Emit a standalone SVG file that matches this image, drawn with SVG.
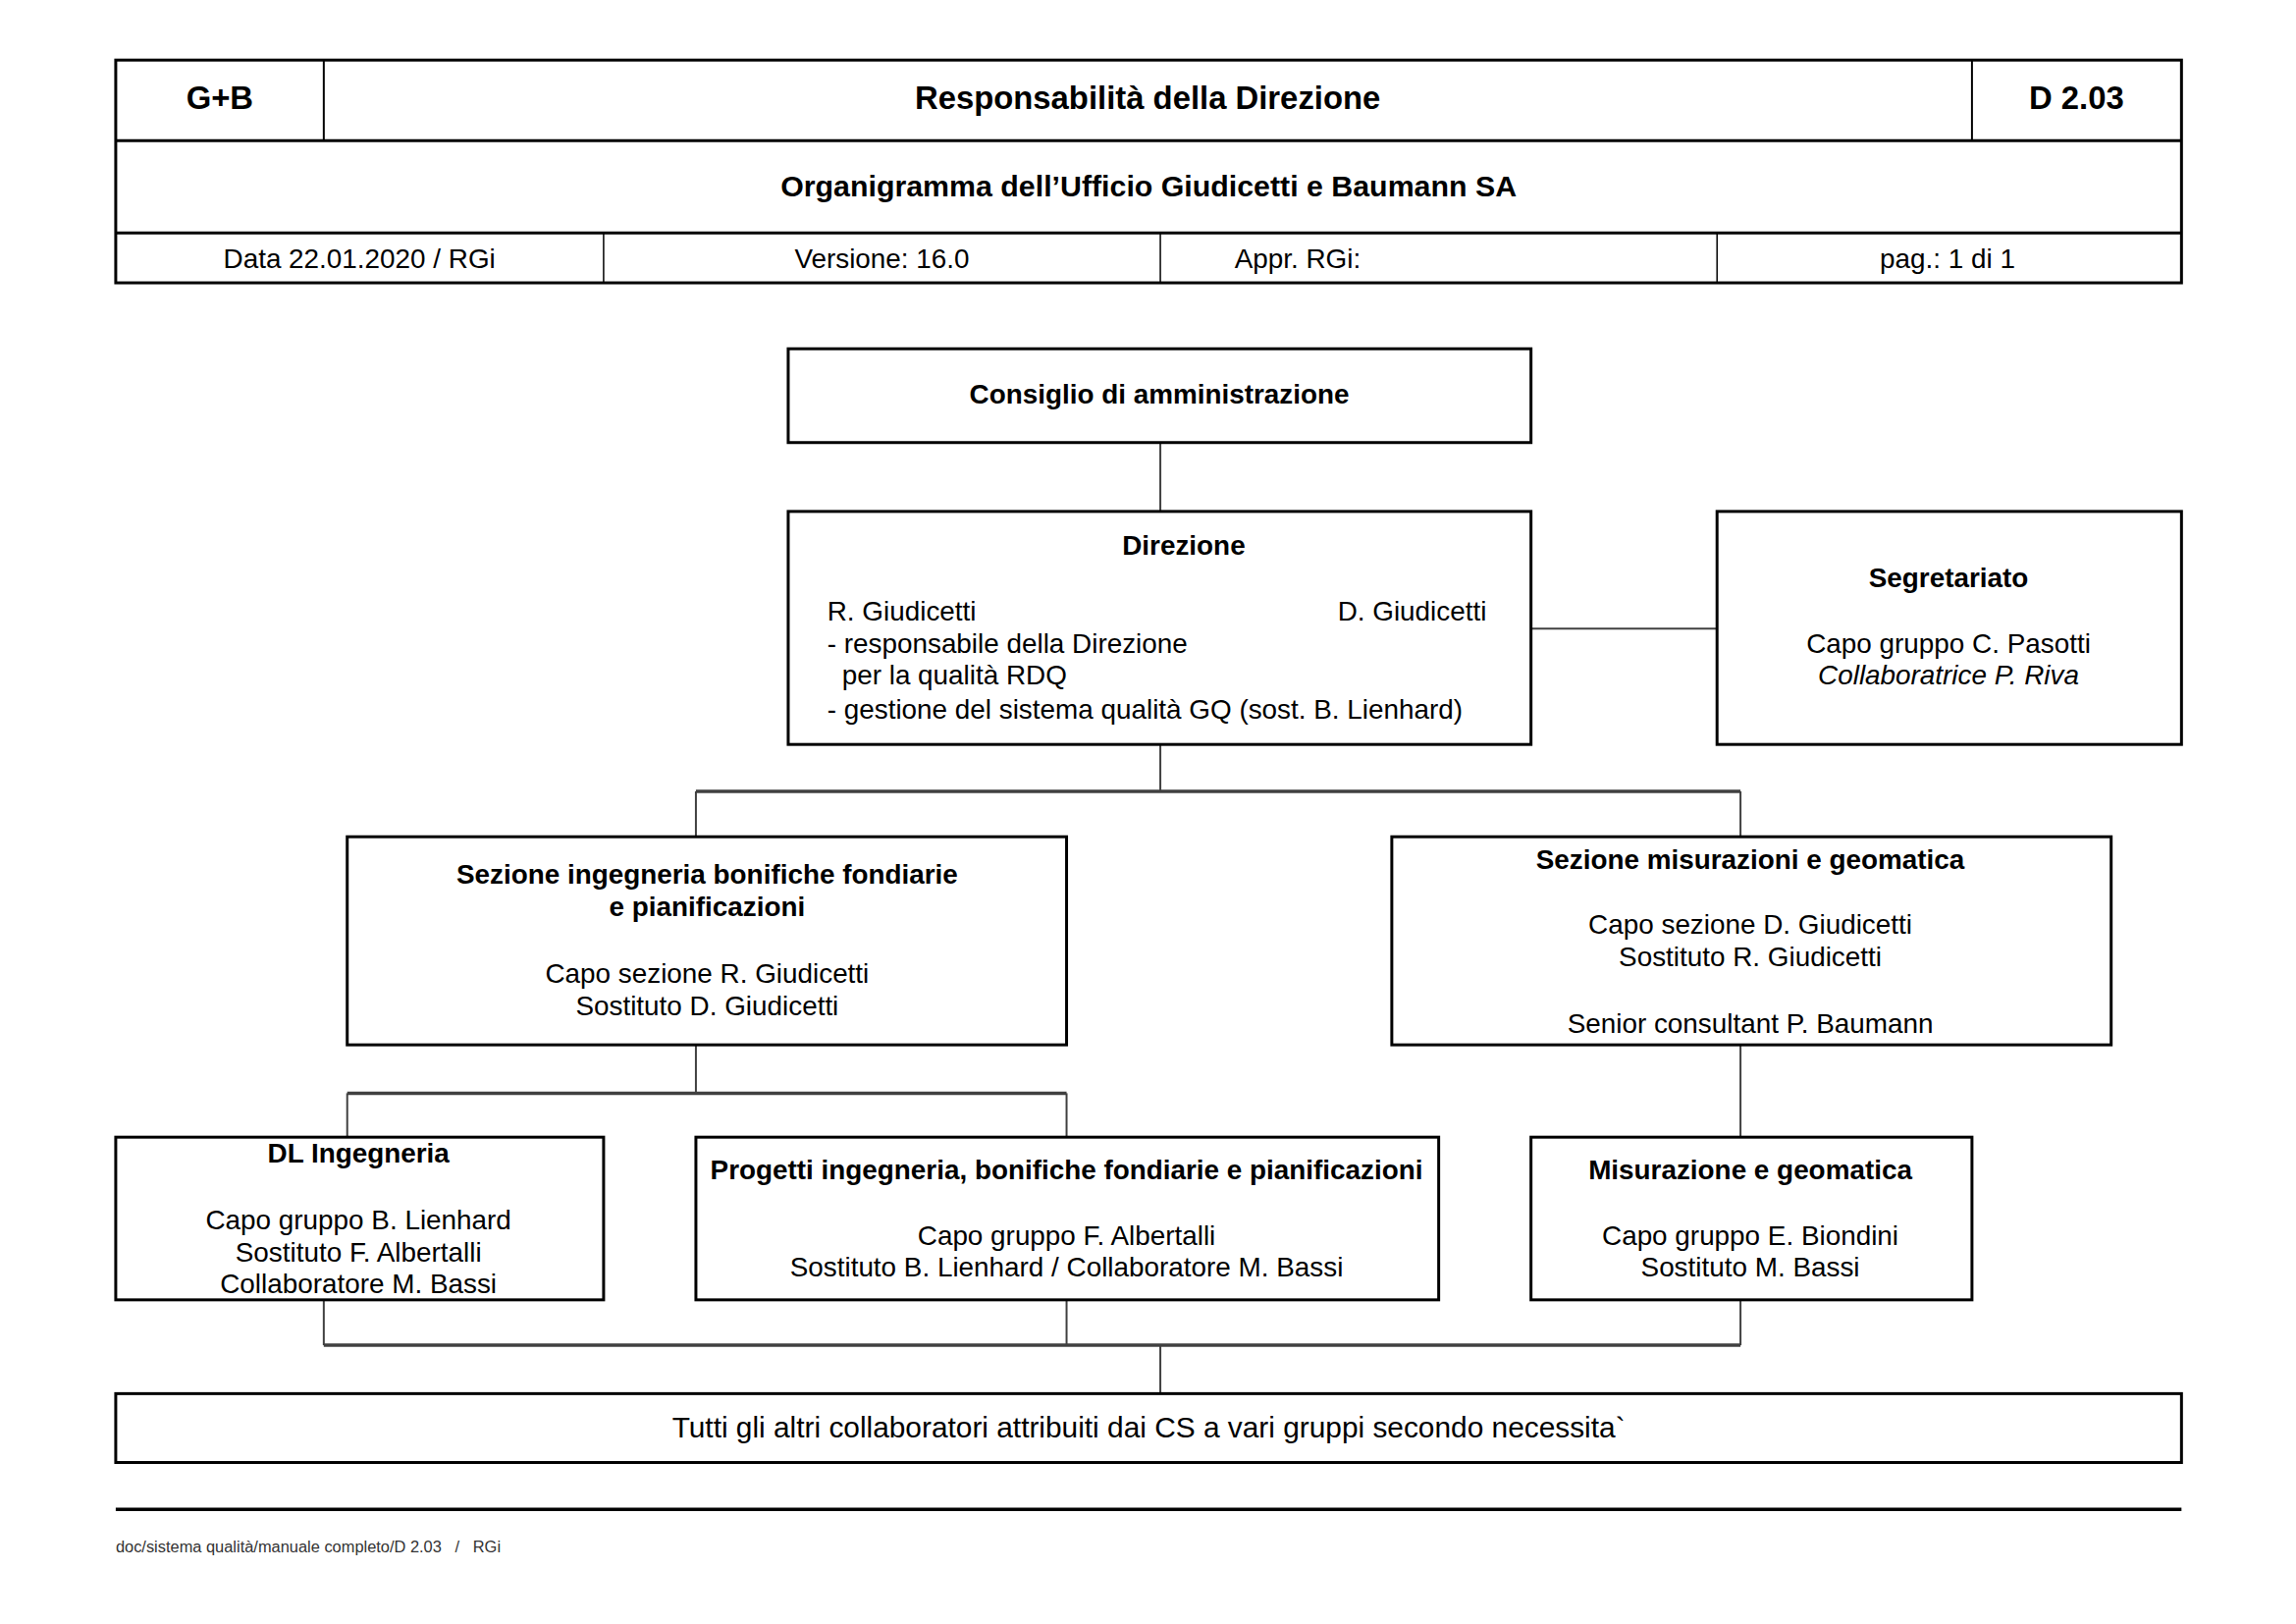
<svg xmlns="http://www.w3.org/2000/svg" width="2339" height="1654" viewBox="0 0 2339 1654">
<style>
text{font-family:"Liberation Sans",Arial,sans-serif;fill:#000;}
.b{font-weight:bold;}
.h1{font-size:33px;font-weight:bold;}
.h2{font-size:30.5px;font-weight:bold;}
.t{font-size:28px;}
.big{font-size:30px;}
.it{font-style:italic;}
.box{fill:#fff;stroke:#000;stroke-width:3;}
.hl{stroke:#000;stroke-width:3;fill:none;}
.hv{stroke:#000;stroke-width:2;fill:none;}
.hthin{stroke:#000;stroke-width:1.5;fill:none;}
.c{stroke:#404040;stroke-width:2;fill:none;}
.bus{stroke:#404040;stroke-width:3.5;fill:none;}
.foot{font-size:16.5px;fill:#333;}
</style>
<rect width="2339" height="1654" fill="#fff"/>
<g transform="scale(0.995)">
<g id="header">
<rect x="118.5" y="61.5" width="2115" height="228" fill="#fff" stroke="#000" stroke-width="3"/>
<line class="hl" x1="118.5" y1="144" x2="2233.5" y2="144"/>
<line class="hl" x1="118.5" y1="238.5" x2="2233.5" y2="238.5"/>
<line class="hv" x1="331.5" y1="61.5" x2="331.5" y2="144"/>
<line class="hv" x1="2019" y1="61.5" x2="2019" y2="144"/>
<line class="hthin" x1="618" y1="238.5" x2="618" y2="289.5"/>
<line class="hthin" x1="1188" y1="238.5" x2="1188" y2="289.5"/>
<line class="hthin" x1="1758" y1="238.5" x2="1758" y2="289.5"/>
<text class="h1" x="225" y="112" text-anchor="middle">G+B</text>
<text class="h1" x="1175" y="112" text-anchor="middle">Responsabilità della Direzione</text>
<text class="h1" x="2126" y="112" text-anchor="middle">D 2.03</text>
<text class="h2" x="1176" y="201" text-anchor="middle">Organigramma dell’Ufficio Giudicetti e Baumann SA</text>
<text class="t" x="368" y="274" text-anchor="middle">Data 22.01.2020 / RGi</text>
<text class="t" x="903" y="274" text-anchor="middle">Versione: 16.0</text>
<text class="t" x="1264" y="274">Appr. RGi:</text>
<text class="t" x="1994" y="274" text-anchor="middle">pag.: 1 di 1</text>
</g>
<g id="connectors">
<line class="c" x1="1188" y1="453" x2="1188" y2="523.5"/>
<line class="c" x1="1567.5" y1="643.5" x2="1758" y2="643.5"/>
<line class="c" x1="1188" y1="762" x2="1188" y2="810"/>
<line class="bus" x1="712.5" y1="810" x2="1782" y2="810"/>
<line class="c" x1="712.5" y1="810" x2="712.5" y2="856.5"/>
<line class="c" x1="1782" y1="810" x2="1782" y2="856.5"/>
<line class="c" x1="712.5" y1="1069.5" x2="712.5" y2="1119"/>
<line class="bus" x1="355.5" y1="1119" x2="1092" y2="1119"/>
<line class="c" x1="355.5" y1="1119" x2="355.5" y2="1164"/>
<line class="c" x1="1092" y1="1119" x2="1092" y2="1164"/>
<line class="c" x1="1782" y1="1069.5" x2="1782" y2="1164"/>
<line class="c" x1="331.5" y1="1330.5" x2="331.5" y2="1377"/>
<line class="c" x1="1092" y1="1330.5" x2="1092" y2="1377"/>
<line class="c" x1="1782" y1="1330.5" x2="1782" y2="1377"/>
<line class="bus" x1="331.5" y1="1377" x2="1782" y2="1377"/>
<line class="c" x1="1188" y1="1377" x2="1188" y2="1426.5"/>
</g>
<g id="consiglio">
<rect class="box" x="807" y="357" width="760.5" height="96"/>
<text class="t b" x="1187" y="413" text-anchor="middle">Consiglio di amministrazione</text>
</g>
<g id="direzione">
<rect class="box" x="807" y="523.5" width="760.5" height="238.5"/>
<text class="t b" x="1212" y="568" text-anchor="middle">Direzione</text>
<text class="t" x="847" y="635">R. Giudicetti</text>
<text class="t" x="1522" y="635" text-anchor="end">D. Giudicetti</text>
<text class="t" x="847" y="668">- responsabile della Direzione</text>
<text class="t" x="862" y="701">per la qualità RDQ</text>
<text class="t" x="847" y="736">- gestione del sistema qualità GQ (sost. B. Lienhard)</text>
</g>
<g id="segretariato">
<rect class="box" x="1758" y="523.5" width="475.5" height="238.5"/>
<text class="t b" x="1995" y="601" text-anchor="middle">Segretariato</text>
<text class="t" x="1995" y="668" text-anchor="middle">Capo gruppo C. Pasotti</text>
<text class="t it" x="1995" y="701" text-anchor="middle">Collaboratrice P. Riva</text>
</g>
<g id="sezione-ingegneria">
<rect class="box" x="355.5" y="856.5" width="736.5" height="213"/>
<text class="t b" x="724" y="905" text-anchor="middle">Sezione ingegneria bonifiche fondiarie</text>
<text class="t b" x="724" y="938" text-anchor="middle">e pianificazioni</text>
<text class="t" x="724" y="1006" text-anchor="middle">Capo sezione R. Giudicetti</text>
<text class="t" x="724" y="1039" text-anchor="middle">Sostituto D. Giudicetti</text>
</g>
<g id="sezione-misurazioni">
<rect class="box" x="1425" y="856.5" width="736.5" height="213"/>
<text class="t b" x="1792" y="889" text-anchor="middle">Sezione misurazioni e geomatica</text>
<text class="t" x="1792" y="956" text-anchor="middle">Capo sezione D. Giudicetti</text>
<text class="t" x="1792" y="989" text-anchor="middle">Sostituto R. Giudicetti</text>
<text class="t" x="1792" y="1057" text-anchor="middle">Senior consultant P. Baumann</text>
</g>
<g id="dl-ingegneria">
<rect class="box" x="118.5" y="1164" width="499.5" height="166.5"/>
<text class="t b" x="367" y="1190" text-anchor="middle">DL Ingegneria</text>
<text class="t" x="367" y="1258" text-anchor="middle">Capo gruppo B. Lienhard</text>
<text class="t" x="367" y="1291" text-anchor="middle">Sostituto F. Albertalli</text>
<text class="t" x="367" y="1324" text-anchor="middle">Collaboratore M. Bassi</text>
</g>
<g id="progetti">
<rect class="box" x="712.5" y="1164" width="760.5" height="166.5"/>
<text class="t b" x="1092" y="1207" text-anchor="middle">Progetti ingegneria, bonifiche fondiarie e pianificazioni</text>
<text class="t" x="1092" y="1274" text-anchor="middle">Capo gruppo F. Albertalli</text>
<text class="t" x="1092" y="1307" text-anchor="middle">Sostituto B. Lienhard / Collaboratore M. Bassi</text>
</g>
<g id="misurazione">
<rect class="box" x="1567.5" y="1164" width="451.5" height="166.5"/>
<text class="t b" x="1792" y="1207" text-anchor="middle">Misurazione e geomatica</text>
<text class="t" x="1792" y="1274" text-anchor="middle">Capo gruppo E. Biondini</text>
<text class="t" x="1792" y="1307" text-anchor="middle">Sostituto M. Bassi</text>
</g>
<g id="altri">
<rect class="box" x="118.5" y="1426.5" width="2115" height="70.5"/>
<text class="big" x="1176" y="1471" text-anchor="middle">Tutti gli altri collaboratori attribuiti dai CS a vari gruppi secondo necessita`</text>
</g>
<g id="footer">
<line x1="118.5" y1="1545" x2="2233.5" y2="1545" stroke="#000" stroke-width="3.5"/>
<text class="foot" x="118.5" y="1589" xml:space="preserve">doc/sistema qualità/manuale completo/D 2.03   /   RGi</text>
</g>
</g>
</svg>
